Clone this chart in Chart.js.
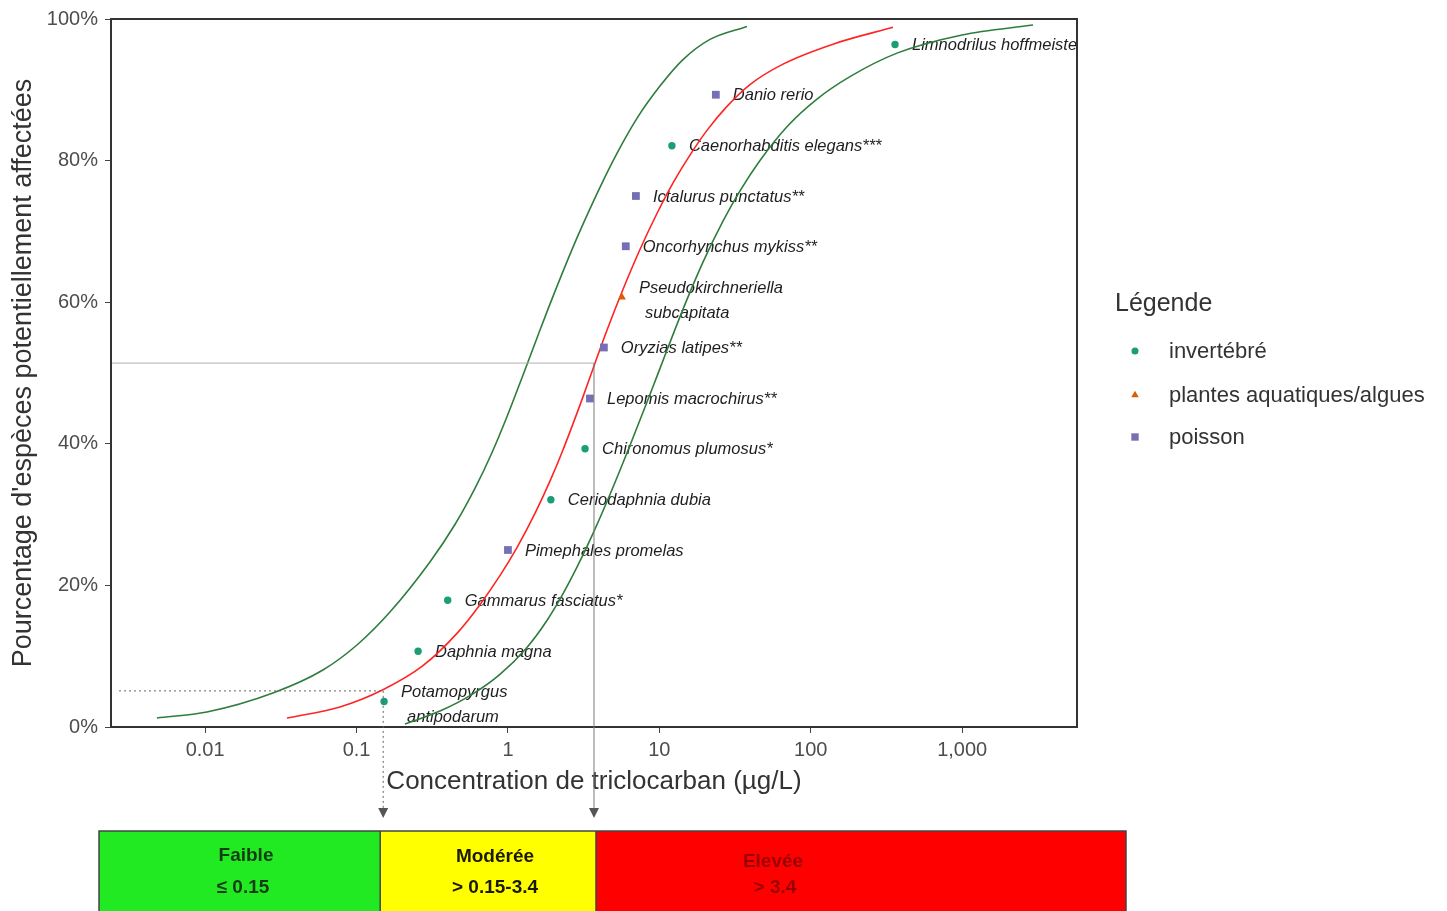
<!DOCTYPE html>
<html>
<head>
<meta charset="utf-8">
<script src="https://cdn.jsdelivr.net/npm/chart.js@4.4.1/dist/chart.umd.min.js"></script>
<style>
html,body{margin:0;padding:0;background:#fff;}
canvas{display:block;}
</style>
</head>
<body>
<canvas id="c" width="1447" height="911"></canvas>
<script>
// ---------- DATA ----------
const species = ['Potamopyrgus\nantipodarum','Daphnia magna','Gammarus fasciatus*','Pimephales promelas','Ceriodaphnia dubia','Chironomus plumosus*','Lepomis macrochirus**','Oryzias latipes**','Pseudokirchneriella\nsubcapitata','Oncorhynchus mykiss**','Ictalurus punctatus**','Caenorhabditis elegans***','Danio rerio','Limnodrilus hoffmeisteri'];
const speciesGroup = ['inv','inv','inv','fish','inv','inv','fish','fish','plant','fish','fish','inv','fish','inv'];
const concentration = [0.152, 0.255, 0.40, 1.0, 1.92, 3.23, 3.48, 4.3, 5.66, 6.0, 7.0, 12.1, 23.6, 360];
const percentAffected = [3.6, 10.7, 17.9, 25.0, 32.1, 39.3, 46.4, 53.6, 60.7, 67.9, 75.0, 82.1, 89.3, 96.4];

const groupKeys = ['inv','plant','fish'];
const groupNames = ['invertébré','plantes aquatiques/algues','poisson'];

const fitConc = [0.0347,0.0777,0.1494,0.2746,0.4604,0.653,0.885,1.147,1.508,1.894,2.308,3.082,3.70,4.507,5.748,7.445,9.641,12.29,15.93,20.63,27.96,39.67,65.53,140.2,349.1];
const fitPct  = [1.27,2.84,5.27,8.66,13.22,17.28,21.38,25.34,30.17,34.72,39.13,46.24,50.99,56.04,61.80,67.44,72.53,76.82,80.78,84.27,87.66,90.74,93.63,96.45,98.83];

const lowConc = [0.004804,0.01028,0.02804,0.05999,0.1006,0.1662,0.3053,0.4467,0.6053,0.7840,0.9849,1.256,1.578,1.952,2.856,4.053,5.248,7.112,10.09,14.32,21.59,37.89];
const lowPct  = [1.27,2.12,4.80,8.05,11.58,16.24,23.31,28.60,33.69,38.73,43.81,49.69,55.30,60.44,69.08,76.23,81.03,85.97,90.52,94.26,97.12,98.95];

const highConc = [0.2088,0.3556,0.5872,0.885,1.335,1.810,2.273,2.856,3.642,4.718,6.394,8.668,11.22,14.76,19.41,26.31,34.08,46.18,69.63,109.9,181.5,371.0,997,2935];
const highPct  = [0.42,2.25,4.68,7.42,11.24,15.05,18.55,22.57,27.32,32.84,39.76,46.96,53.21,59.69,65.66,71.45,75.73,80.02,84.79,88.69,91.86,95.18,97.75,99.15];

const xTickValues = [0.01, 0.1, 1, 10, 100, 1000];
const xTickLabels = ['0.01', '0.1', '1', '10', '100', '1,000'];
const yTickValues = [0, 20, 40, 60, 80, 100];

const guideLow  = {x: 0.15, y: 5.1};
const guideHigh = {x: 3.70, y: 51.4};

const riskTitles = ['Faible', 'Modérée', 'Elevée'];
const riskRanges = ['≤ 0.15', '> 0.15-3.4', '> 3.4'];

// ---------- STYLE ----------
const FONT = "'Liberation Sans', Arial, sans-serif";
Chart.defaults.font.family = FONT;
const groupColors = {inv:'#1b9e77', plant:'#d95f02', fish:'#7570b3'};
const groupStyles = {inv:'circle', plant:'triangle', fish:'rect'};
const groupRadius = {inv:3.7, plant:4.6, fish:5.5};

function toPts(xs, ys){ return xs.map((v,i)=>({x:v, y:ys[i]})); }

const pointDatasets = groupKeys.map((k, gi) => ({
  label: groupNames[gi],
  data: species.map((s,i)=>({x:concentration[i], y:percentAffected[i], name:s, g:speciesGroup[i]})).filter(d=>d.g===k),
  pointStyle: groupStyles[k],
  pointRadius: groupRadius[k],
  pointHoverRadius: groupRadius[k],
  backgroundColor: groupColors[k],
  borderColor: groupColors[k],
  borderWidth: 0,
  showLine: false,
  isPoints: true
}));

const curveDataset = (data, color) => ({
  data, showLine: true, pointRadius: 0, pointHoverRadius: 0,
  borderColor: color, borderWidth: 1.6, backgroundColor: color,
  cubicInterpolationMode: 'monotone', fill: false
});

const labelPlugin = {
  id: 'speciesLabels',
  beforeDatasetsDraw(chart){
    const ctx = chart.ctx, a = chart.chartArea;
    ctx.save();
    ctx.beginPath(); ctx.rect(a.left, a.top, a.right - a.left, a.bottom - a.top); ctx.clip();
    ctx.font = "italic 16.5px " + FONT;
    ctx.fillStyle = '#1e1e1e';
    ctx.textBaseline = 'middle';
    ctx.textAlign = 'left';
    chart.data.datasets.forEach((ds, di) => {
      if (!ds.isPoints) return;
      const meta = chart.getDatasetMeta(di);
      meta.data.forEach((el, j) => {
        const lines = ds.data[j].name.split('\n');
        if (lines.length === 1) {
          ctx.fillText(lines[0], el.x + 17, el.y + 1);
        } else {
          ctx.fillText(lines[0], el.x + 17, el.y - 9);
          ctx.fillText(lines[1], el.x + 23, el.y + 16);
        }
      });
    });
    ctx.restore();
  }
};

const decorPlugin = {
  id: 'decor',
  afterDatasetsDraw(chart){
    const ctx = chart.ctx, a = chart.chartArea;
    const xs = chart.scales.x, ys = chart.scales.y;
    ctx.save();
    // frame top/right
    ctx.strokeStyle = '#333'; ctx.lineWidth = 2;
    ctx.beginPath();
    ctx.moveTo(a.left, a.top); ctx.lineTo(a.right, a.top); ctx.lineTo(a.right, a.bottom);
    ctx.stroke();

    const arrowY = 818;
    const xl = xs.getPixelForValue(guideLow.x), yl = ys.getPixelForValue(guideLow.y);
    const xh = xs.getPixelForValue(guideHigh.x), yh = ys.getPixelForValue(guideHigh.y);
    // solid guide
    ctx.lineWidth = 1;
    ctx.strokeStyle = '#b0b0b0';
    ctx.beginPath(); ctx.moveTo(a.left + 1, yh); ctx.lineTo(xh, yh); ctx.stroke();
    ctx.strokeStyle = '#7a7a7a';
    ctx.beginPath(); ctx.moveTo(xh, yh); ctx.lineTo(xh, arrowY - 9); ctx.stroke();
    // dotted guide
    ctx.strokeStyle = '#666';
    ctx.setLineDash([2, 3]);
    ctx.beginPath(); ctx.moveTo(a.left + 8, yl); ctx.lineTo(xl, yl); ctx.stroke();
    ctx.beginPath(); ctx.moveTo(xl, yl); ctx.lineTo(xl, arrowY - 9); ctx.stroke();
    ctx.setLineDash([]);
    // arrow heads
    ctx.fillStyle = '#555';
    [xl, xh].forEach(x => {
      ctx.beginPath(); ctx.moveTo(x - 5, arrowY - 10); ctx.lineTo(x + 5, arrowY - 10); ctx.lineTo(x, arrowY); ctx.closePath(); ctx.fill();
    });

    // risk bar
    const barL = 99, barR = 1126, barT = 831, barB = 915;
    const b1 = xl - 3, b2 = xh + 2;
    const fills = ['#22ea22', '#ffff00', '#ff0000'];
    const edges = [barL, b1, b2, barR];
    for (let i = 0; i < 3; i++) {
      ctx.fillStyle = fills[i];
      ctx.fillRect(edges[i], barT, edges[i+1] - edges[i], barB - barT);
    }
    ctx.strokeStyle = '#444'; ctx.lineWidth = 1.5;
    ctx.strokeRect(barL, barT, barR - barL, barB - barT);
    ctx.beginPath(); ctx.moveTo(b1, barT); ctx.lineTo(b1, barB); ctx.moveTo(b2, barT); ctx.lineTo(b2, barB); ctx.stroke();

    const textColors = ['#143c14', '#1a1a00', '#9a0000'];
    const titleX = [246, 495, 773], titleY = [856, 857, 862];
    const rangeX = [243, 495, 775];
    ctx.textAlign = 'center'; ctx.textBaseline = 'middle';
    ctx.font = "bold 19px " + FONT;
    for (let i = 0; i < 3; i++) {
      ctx.fillStyle = textColors[i];
      ctx.fillText(riskTitles[i], titleX[i], titleY[i]);
      ctx.fillText(riskRanges[i], rangeX[i], 888);
    }

    // legend
    ctx.textAlign = 'left';
    ctx.fillStyle = '#333';
    ctx.font = "25px " + FONT;
    ctx.fillText('Légende', 1115, 304);
    ctx.font = "22px " + FONT;
    const legY = [351, 395, 437];
    groupKeys.forEach((k, i) => {
      ctx.fillStyle = groupColors[k]; ctx.strokeStyle = groupColors[k];
      Chart.helpers.drawPoint(ctx, {pointStyle: groupStyles[k], radius: groupRadius[k] * 0.95, borderWidth: 0, rotation: 0}, 1135, legY[i]);
      ctx.fillStyle = '#333';
      ctx.fillText(groupNames[i], 1169, legY[i] + 1);
    });
    ctx.restore();
  }
};

new Chart(document.getElementById('c'), {
  type: 'scatter',
  data: {
    datasets: [
      ...pointDatasets,
      curveDataset(toPts(fitConc, fitPct), '#ff2424'),
      curveDataset(toPts(lowConc, lowPct), '#2f7d3c'),
      curveDataset(toPts(highConc, highPct), '#2f7d3c')
    ]
  },
  options: {
    responsive: false,
    animation: false,
    devicePixelRatio: 1,
    layout: { padding: { left: 0, top: 19, right: 370, bottom: 109 } },
    plugins: { legend: { display: false }, tooltip: { enabled: false } },
    scales: {
      x: {
        type: 'logarithmic',
        min: 0.00239, max: 5730,
        afterBuildTicks: s => { s.ticks = xTickValues.map(v => ({value: v})); },
        afterFit: s => { s.height = 75; },
        ticks: { callback: (v, i) => xTickLabels[i], color: '#4d4d4d', font: {size: 20}, padding: 5, autoSkip: false, maxRotation: 0 },
        grid: { display: true, drawOnChartArea: false, drawTicks: true, tickLength: 6, color: '#444', lineWidth: 1 },
        border: { display: true, color: '#333', width: 2 },
        title: { display: true, text: 'Concentration de triclocarban (µg/L)', color: '#333', font: {size: 26}, padding: {top: 0, bottom: 5} }
      },
      y: {
        min: 0, max: 100,
        afterBuildTicks: s => { s.ticks = yTickValues.map(v => ({value: v})); },
        afterFit: s => { s.width = 111; },
        ticks: { callback: v => v + '%', color: '#4d4d4d', font: {size: 20}, padding: 7 },
        grid: { display: true, drawOnChartArea: false, drawTicks: true, tickLength: 6, color: '#444', lineWidth: 1 },
        border: { display: true, color: '#333', width: 2 },
        title: { display: true, text: "Pourcentage d'espèces potentiellement affectées", color: '#333', font: {size: 27}, padding: {top: 7, bottom: 0} }
      }
    }
  },
  plugins: [labelPlugin, decorPlugin]
});
</script>
</body>
</html>
